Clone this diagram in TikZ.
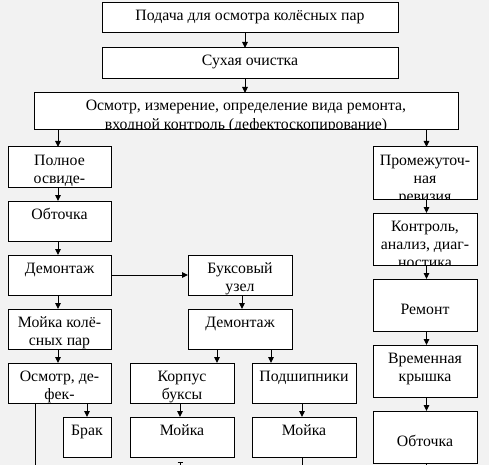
\documentclass[tikz,border=0pt]{standalone}
\usepackage{fontspec}
\setmainfont{Liberation Serif}
\usetikzlibrary{arrows.meta,calc}
\definecolor{bggray}{HTML}{F2F2F2}
\tikzset{
 boxst/.style={draw, line width=1pt, fill=white, inner sep=0pt, outer sep=0pt},
 txt/.style={inner sep=0pt, font=\rmfamily\fontsize{15.8}{18.2}\selectfont, anchor=base},
 arr/.style={line width=1pt, -{Triangle[length=6pt,width=5.5pt]}},
 ln/.style={line width=1pt},
}
\newcommand\pbox[7][18]{%
 \node[boxst, anchor=north west, minimum width={(#5-#3)*1pt}, minimum height={(#6-#4)*1pt}] (#2) at (#3,#4) {};
 \begin{scope}
 \clip ([xshift=0.5pt,yshift=-0.5pt]#2.north west) rectangle ([xshift=-0.5pt,yshift=0.5pt]#2.south east);
 \node[txt] at ([yshift=-#1pt]#2.north) {\parbox[t]{480pt}{\centering #7}};
 \end{scope}}
\begin{document}
\begin{tikzpicture}[x=1pt,y=-1pt]
\useasboundingbox (0,0) rectangle (489,465);
\fill[bggray] (0,0) rectangle (489,465);
\pbox{b1}{102}{3}{398}{33}{Подача для осмотра колёсных пар}
\pbox{b2}{102}{48}{398}{79}{Сухая очистка}
\pbox{b3}{34}{93}{458}{130}{Осмотр, измерение, определение вида ремонта,\\входной контроль (дефектоскопирование)}
\pbox{l1}{8}{147}{111}{187}{Полное\\освиде-\\тельствование}
\pbox{l2}{8}{201}{111}{241}{Обточка}
\pbox{l3}{8}{255}{111}{295}{Демонтаж}
\pbox{l4}{8}{309}{111}{349}{Мойка колё-\\сных пар}
\pbox{l5}{8}{363}{111}{403}{Осмотр, де-\\фек-\\тоскопия}
\pbox{brak}{63}{417}{111}{457}{Брак}
\pbox{m1}{188}{255}{292}{295}{Буксовый\\узел}
\pbox{m2}{188}{309}{292}{349}{Демонтаж}
\pbox{m3}{130}{363}{234}{403}{Корпус\\буксы}
\pbox{m4}{252}{363}{356}{403}{Подшипники}
\pbox{m5}{130}{417}{234}{457}{Мойка}
\pbox{m6}{252}{417}{356}{457}{Мойка}
\pbox{r1}{373}{147}{477}{199}{Промежуточ-\\ная\\ревизия}
\pbox{r2}{373}{213}{477}{265}{Контроль,\\анализ, диаг-\\ностика}
\pbox[35]{r3}{373}{279}{477}{331}{Ремонт}
\pbox{r4}{373}{345}{477}{397}{Временная\\крышка}
\pbox[35.5]{r5}{373}{411}{477}{463}{Обточка}
% connectors
\draw[arr] ([xshift=-5pt]b1.south) -- ([xshift=-5pt]b1.south |- b2.north);
\draw[arr] ([xshift=-5pt]b2.south) -- ([xshift=-5pt]b2.south |- b3.north);
\draw[arr] ([xshift=-1.5pt]l1.north |- b3.south) -- ([xshift=-1.5pt]l1.north);
\draw[arr] ([xshift=1.5pt]r1.north |- b3.south) -- ([xshift=1.5pt]r1.north);
\foreach \a/\b in {l1/l2,l2/l3,l3/l4,l4/l5}
  \draw[arr] ([xshift=-1.5pt]\a.south) -- ([xshift=-1.5pt]\b.north);
\foreach \a/\b in {r1/r2,r2/r3,r3/r4,r4/r5}
  \draw[arr] ([xshift=1.5pt]\a.south) -- ([xshift=1.5pt]\b.north);
\draw[arr] (l3) -- (m1);
\draw[arr] ([xshift=2pt]m1.south) -- ([xshift=2pt]m2.north);
\draw[arr] ([xshift=-23pt]m2.south) -- ([xshift=-23pt]m2.south |- m3.north);
\draw[arr] ([xshift=31pt]m2.south) -- ([xshift=31pt]m2.south |- m4.north);
\draw[arr] ([xshift=-2pt]m3.south) -- ([xshift=-2pt]m5.north);
\draw[arr] ([xshift=-2pt]m4.south) -- ([xshift=-2pt]m6.north);
\draw[arr] ([xshift=27.5pt]l5.south) -- ([xshift=27.5pt]l5.south |- brak.north);
\coordinate (lend) at (35,465);
\draw[ln] (l5.south -| lend) -- (lend);
\coordinate (m5t) at (180,461.5);
\coordinate (m5e) at (180,465);
\draw[ln,{Bar[width=5pt]}-] (m5t) -- (m5e);
\coordinate (m6e) at (302,465);
\draw[ln] (m6.south -| m6e) -- (m6e);
\coordinate (r5e) at (426.5,465);
\draw[ln] (r5.south -| r5e) -- (r5e);
\end{tikzpicture}
\end{document}
